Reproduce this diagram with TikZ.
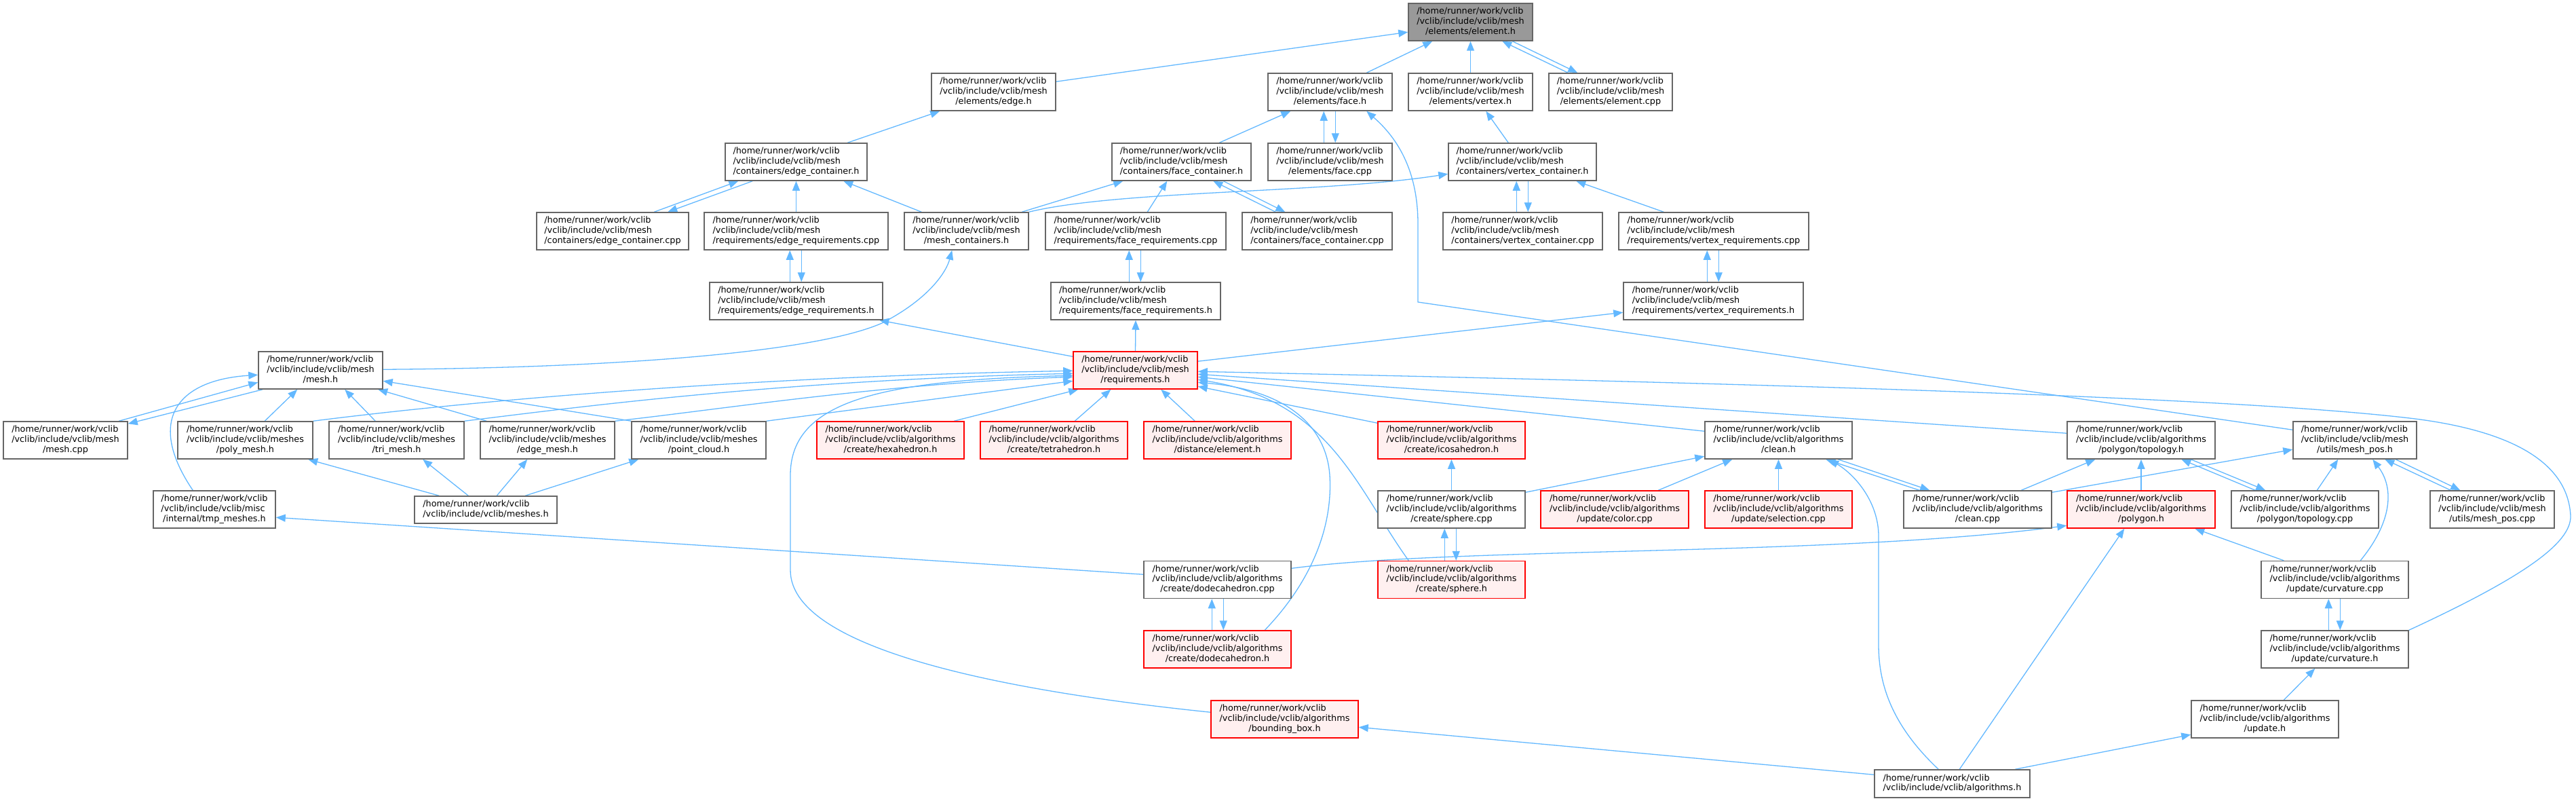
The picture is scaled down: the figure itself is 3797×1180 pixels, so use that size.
\documentclass[tikz,border=0pt]{standalone}
\usepackage{fontspec}
\newfontfamily\dvs{DejaVu Sans}
\usetikzlibrary{arrows.meta,backgrounds}
\definecolor{edgeblue}{HTML}{63B8FF}
\definecolor{boxgrey}{HTML}{666666}
\definecolor{redfill}{HTML}{FFF0F0}
\definecolor{rootfill}{HTML}{999999}
\newcommand\vlab[2]{\begin{tabular}{@{}l@{}}/home/runner/work/vclib\\#1\\\multicolumn{1}{@{}c@{}}{#2}\end{tabular}}
\newcommand\vlabm[1]{\vlab{/vclib/include/vclib/mesh}{#1}}
\newcommand\vlaba[1]{\vlab{/vclib/include/vclib/algorithms}{#1}}
\newcommand\vlabs[1]{\vlab{/vclib/include/vclib/meshes}{#1}}
\newcommand\vlabi[1]{\vlab{/vclib/include/vclib/misc}{#1}}
\newcommand\vlabtwo[1]{\begin{tabular}{@{}l@{}}/home/runner/work/vclib\\\multicolumn{1}{@{}c@{}}{#1}\end{tabular}}
\tikzset{
  nbox/.style={rectangle, draw=boxgrey, fill=white, line width=1.5pt, inner sep=0pt,
    minimum height=55pt, font=\dvs\fontsize{12.8pt}{14.8pt}\selectfont},
  rbox/.style={nbox, draw=red, fill=redfill},
  rootbox/.style={nbox, fill=rootfill},
  arr/.style={draw=edgeblue, line width=1.3pt, -{Triangle[length=14pt,width=11pt]}}
}
\begin{document}
\begin{tikzpicture}[x=1pt,y=-1pt]
\useasboundingbox (0,0) rectangle (3797,1180);
% row 0
\node[rootbox,minimum width=183pt] (elementh) at (2167.5,32.5) {\vlabm{/elements/element.h}};
% row 1
\node[nbox,minimum width=183pt] (edgeh) at (1464.5,135.5) {\vlabm{/elements/edge.h}};
\node[nbox,minimum width=183pt] (faceh) at (1960.5,135.5) {\vlabm{/elements/face.h}};
\node[nbox,minimum width=183pt] (vertexh) at (2167.5,135.5) {\vlabm{/elements/vertex.h}};
\node[nbox,minimum width=182pt] (elementcpp) at (2374,135.5) {\vlabm{/elements/element.cpp}};
% row 2
\node[nbox,minimum width=209pt] (edgecont) at (1173.5,238.5) {\vlabm{/containers/edge\_container.h}};
\node[nbox,minimum width=205pt] (facecont) at (1741.5,238.5) {\vlabm{/containers/face\_container.h}};
\node[nbox,minimum width=183pt] (facecpp) at (1960.5,238.5) {\vlabm{/elements/face.cpp}};
\node[nbox,minimum width=218pt] (vertcont) at (2244,238.5) {\vlabm{/containers/vertex\_container.h}};
% row 3
\node[nbox,minimum width=224pt] (edgecontcpp) at (903,340.5) {\vlabm{/containers/edge\_container.cpp}};
\node[nbox,minimum width=271pt] (edgereqcpp) at (1173.5,340.5) {\vlabm{/requirements/edge\_requirements.cpp}};
\node[nbox,minimum width=183pt] (meshcont) at (1424.5,340.5) {\vlabm{/mesh\_containers.h}};
\node[nbox,minimum width=266pt] (facereqcpp) at (1674,340.5) {\vlabm{/requirements/face\_requirements.cpp}};
\node[nbox,minimum width=221pt] (facecontcpp) at (1941.5,340.5) {\vlabm{/containers/face\_container.cpp}};
\node[nbox,minimum width=235pt] (vertcontcpp) at (2244.5,340.5) {\vlabm{/containers/vertex\_container.cpp}};
\node[nbox,minimum width=280pt] (vertreqcpp) at (2526,340.5) {\vlabm{/requirements/vertex\_requirements.cpp}};
% row 4
\node[nbox,minimum width=255pt] (edgereqh) at (1173.5,443.5) {\vlabm{/requirements/edge\_requirements.h}};
\node[nbox,minimum width=250pt] (facereqh) at (1674,443.5) {\vlabm{/requirements/face\_requirements.h}};
\node[nbox,minimum width=265pt] (vertreqh) at (2525.5,443.5) {\vlabm{/requirements/vertex\_requirements.h}};
% row 5
\node[nbox,minimum width=183pt] (meshh) at (472.5,545.5) {\vlabm{/mesh.h}};
\node[rbox,minimum width=183pt] (reqh) at (1673.5,545.5) {\vlabm{/requirements.h}};
% row 6
\node[nbox,minimum width=183pt] (meshcpp) at (96.5,648.5) {\vlabm{/mesh.cpp}};
\node[nbox,minimum width=199pt] (polymesh) at (361.5,648.5) {\vlabs{/poly\_mesh.h}};
\node[nbox,minimum width=199pt] (trimesh) at (584.5,648.5) {\vlabs{/tri\_mesh.h}};
\node[nbox,minimum width=198pt] (edgemesh) at (807,648.5) {\vlabs{/edge\_mesh.h}};
\node[nbox,minimum width=198pt] (pointcloud) at (1030,648.5) {\vlabs{/point\_cloud.h}};
\node[rbox,minimum width=217pt] (hexa) at (1312.5,648.5) {\vlaba{/create/hexahedron.h}};
\node[rbox,minimum width=217pt] (tetra) at (1553.5,648.5) {\vlaba{/create/tetrahedron.h}};
\node[rbox,minimum width=217pt] (distelem) at (1794.5,648.5) {\vlaba{/distance/element.h}};
\node[rbox,minimum width=217pt] (icosa) at (2139.5,648.5) {\vlaba{/create/icosahedron.h}};
\node[nbox,minimum width=217pt] (cleanh) at (2621.5,648.5) {\vlaba{/clean.h}};
\node[nbox,minimum width=218pt] (topoh) at (3156,648.5) {\vlaba{/polygon/topology.h}};
\node[nbox,minimum width=182pt] (meshposh) at (3471,648.5) {\vlabm{/utils/mesh\_pos.h}};
% row 7
\node[nbox,minimum width=180pt] (tmpmeshes) at (316,750.5) {\vlabi{/internal/tmp\_meshes.h}};
\node[nbox,minimum width=210pt,minimum height=40pt] (meshesh) at (716,751) {\vlabtwo{/vclib/include/vclib/meshes.h}};
\node[nbox,minimum width=217pt] (spherecpp) at (2139.5,750.5) {\vlaba{/create/sphere.cpp}};
\node[rbox,minimum width=218pt] (colorcpp) at (2380,750.5) {\vlaba{/update/color.cpp}};
\node[rbox,minimum width=217pt] (selcpp) at (2621.5,750.5) {\vlaba{/update/selection.cpp}};
\node[nbox,minimum width=218pt] (cleancpp) at (2915,750.5) {\vlaba{/clean.cpp}};
\node[rbox,minimum width=218pt] (polygonh) at (3156,750.5) {\vlaba{/polygon.h}};
\node[nbox,minimum width=217pt] (topocpp) at (3397.5,750.5) {\vlaba{/polygon/topology.cpp}};
\node[nbox,minimum width=183pt] (meshposcpp) at (3673.5,750.5) {\vlabm{/utils/mesh\_pos.cpp}};
% row 8
\node[nbox,minimum width=217pt] (dodecacpp) at (1794.5,854) {\vlaba{/create/dodecahedron.cpp}};
\node[rbox,minimum width=217pt] (sphereh) at (2139.5,854) {\vlaba{/create/sphere.h}};
\node[nbox,minimum width=217pt] (curvcpp) at (3441.5,854) {\vlaba{/update/curvature.cpp}};
% row 9
\node[rbox,minimum width=217pt] (dodecah) at (1794.5,956.5) {\vlaba{/create/dodecahedron.h}};
\node[nbox,minimum width=217pt] (curvh) at (3441.5,956.5) {\vlaba{/update/curvature.h}};
% row 10
\node[rbox,minimum width=217pt] (bboxh) at (1893.5,1059.5) {\vlaba{/bounding\_box.h}};
\node[nbox,minimum width=217pt] (updateh) at (3338.5,1059.5) {\vlaba{/update.h}};
% row 11
\node[nbox,minimum width=229pt,minimum height=41pt] (algoh) at (2877.5,1154.5) {\vlabtwo{/vclib/include/vclib/algorithms.h}};

\begin{pgfonlayer}{background}
% to element.h
\draw[arr] ([yshift=-13pt]edgeh.north east) -- ([yshift=-43pt]elementh.north west);
\draw[arr] ([xshift=146pt]faceh.north west) -- ([xshift=36pt]elementh.south west);
\draw[arr] (vertexh.north) -- (elementh.south);
\draw[arr] ([xshift=29pt]elementcpp.north west) -- ([xshift=139pt]elementh.south west);
\draw[arr] ([xshift=154pt]elementh.south west) -- ([xshift=43pt]elementcpp.north west);
% row 2 -> row 1
\draw[arr] ([xshift=181pt]edgecont.north west) -- ([xshift=13pt]edgeh.south west);
\draw[arr] ([xshift=159pt]facecont.north west) -- ([xshift=34pt]faceh.south west);
\draw[arr] ([xshift=83pt]facecpp.north west) -- ([xshift=83pt]faceh.south west);
\draw[arr] ([xshift=100pt]faceh.south west) -- ([xshift=100pt]facecpp.north west);
\draw[arr] ([yshift=-13pt]meshposh.north west) -- (2090,445) -- (2090,330)
  .. controls (2090,240) and (2050,195) .. ([xshift=146pt]faceh.south west);
\draw[arr] ([xshift=89pt]vertcont.north west) -- ([xshift=115pt]vertexh.south west);
% row 3 -> row 2
\draw[arr] ([xshift=174pt]edgecontcpp.north west) -- ([xshift=20pt]edgecont.south west);
\draw[arr] ([xshift=41pt]edgecont.south west) -- ([xshift=194pt]edgecontcpp.north west);
\draw[arr] (edgereqcpp.north) -- (edgecont.south);
\draw[arr] ([xshift=26pt]meshcont.north west) -- ([xshift=175pt]edgecont.south west);
\draw[arr] ([xshift=174pt]meshcont.north west) -- ([xshift=17pt]facecont.south west);
\draw[arr] ([xshift=151pt]facereqcpp.north west) -- ([xshift=82pt]facecont.south west);
\draw[arr] ([xshift=50pt]facecontcpp.north west) -- ([xshift=150pt]facecont.south west);
\draw[arr] ([xshift=165pt]facecont.south west) -- ([xshift=64pt]facecontcpp.north west);
\draw[arr] (meshcont.north east) .. controls (1650,280) and (1950,285) .. ([yshift=-46pt]vertcont.north west);
\draw[arr] ([xshift=109pt]vertcontcpp.north west) -- ([xshift=101pt]vertcont.south west);
\draw[arr] ([xshift=118pt]vertcont.south west) -- ([xshift=126pt]vertcontcpp.north west);
\draw[arr] ([xshift=67pt]vertreqcpp.north west) -- ([xshift=189pt]vertcont.south west);
% row 4 <-> row 3
\draw[arr] ([xshift=119pt]edgereqh.north west) -- ([xshift=127pt]edgereqcpp.south west);
\draw[arr] ([xshift=144pt]edgereqcpp.south west) -- ([xshift=136pt]edgereqh.north west);
\draw[arr] ([xshift=116pt]facereqh.north west) -- ([xshift=124pt]facereqcpp.south west);
\draw[arr] ([xshift=141pt]facereqcpp.south west) -- ([xshift=133pt]facereqh.north west);
\draw[arr] ([xshift=124pt]vertreqh.north west) -- ([xshift=131pt]vertreqcpp.south west);
\draw[arr] ([xshift=148pt]vertreqcpp.south west) -- ([xshift=141pt]vertreqh.north west);
% mesh.h -> mesh_containers.h
\draw[arr] ([yshift=-27pt]meshh.north east) .. controls (900,542) and (1200,520) .. (1300,476)
  .. controls (1370,440) and (1395,400) .. ([xshift=71pt]meshcont.south west);
% requirements.h upward
\draw[arr] ([yshift=-8pt]reqh.north west) -- ([xshift=251pt]edgereqh.south west);
\draw[arr] (reqh.north) -- (facereqh.south);
\draw[arr] ([yshift=-15pt]reqh.north east) -- ([yshift=-45pt]vertreqh.north west);
% mesh.h group
\draw[arr] ([xshift=171pt]meshcpp.north west) -- ([yshift=-46pt]meshh.north west);
\draw[arr] ([xshift=7pt]meshh.south west) -- ([yshift=-4pt]meshcpp.north east);
\draw[arr] ([xshift=59pt]tmpmeshes.north west) .. controls (215,620) and (260,560) .. ([yshift=-35pt]meshh.north west);
\draw[arr] ([xshift=129pt]polymesh.north west) -- ([xshift=58pt]meshh.south west);
\draw[arr] ([xshift=69pt]trimesh.north west) -- ([xshift=128pt]meshh.south west);
\draw[arr] ([xshift=10pt]edgemesh.north west) -- ([xshift=177pt]meshh.south west);
\draw[arr] (pointcloud.north west) -- ([yshift=-44pt]meshh.north east);
\draw[arr] ([xshift=37pt]meshesh.north west) -- ([xshift=193pt]polymesh.south west);
\draw[arr] ([xshift=80pt]meshesh.north west) -- ([xshift=139pt]trimesh.south west);
\draw[arr] ([xshift=122pt]meshesh.north west) -- ([xshift=70pt]edgemesh.south west);
\draw[arr] ([xshift=164pt]meshesh.north west) -- ([xshift=11pt]pointcloud.south west);
\draw[arr] ([yshift=-20.5pt]dodecacpp.north west) -- ([yshift=-40pt]tmpmeshes.north east);
% into requirements.h from the left
\draw[arr] (polymesh.north east) .. controls (700,590) and (1100,555) .. ([yshift=-29pt]reqh.north west);
\draw[arr] (trimesh.north east) .. controls (850,600) and (1150,560) .. ([yshift=-33pt]reqh.north west);
\draw[arr] (edgemesh.north east) .. controls (1050,605) and (1300,565) .. ([yshift=-38pt]reqh.north west);
\draw[arr] (pointcloud.north east) -- ([yshift=-44pt]reqh.north west);
\draw[arr] ([yshift=-18pt]bboxh.north west) .. controls (1500,1020) and (1165,960) .. (1165,840)
  -- (1165,700) .. controls (1165,590) and (1300,560) .. ([yshift=-36pt]reqh.north west);
% into requirements.h from below
\draw[arr] ([xshift=203pt]hexa.north west) -- ([xshift=8pt]reqh.south west);
\draw[arr] ([xshift=140pt]tetra.north west) -- ([xshift=56pt]reqh.south west);
\draw[arr] ([xshift=76pt]distelem.north west) -- ([xshift=130pt]reqh.south west);
% into requirements.h from the right
\draw[arr] (curvh.north east) .. controls (3720,850) and (3790,800) .. (3789,760)
  .. controls (3785,680) and (3700,635) .. (3560,617)
  .. controls (3300,585) and (2600,565) .. ([yshift=-30pt]reqh.north east);
\draw[arr] ([yshift=-18pt]topoh.north west) -- ([yshift=-34pt]reqh.north east);
\draw[arr] ([yshift=-15pt]cleanh.north west) -- ([yshift=-38pt]reqh.north east);
\draw[arr] ([xshift=46pt]sphereh.north west) .. controls (2000,720) and (1960,590) .. ([yshift=-42pt]reqh.north east);
\draw[arr] ([xshift=179pt]dodecah.north west) .. controls (1930,860) and (1965,780) .. (1960,700)
  .. controls (1955,630) and (1900,575) .. ([yshift=-46pt]reqh.north east);
\draw[arr] ([yshift=-3pt]icosa.north west) -- ([yshift=-52pt]reqh.north east);
% algorithms row 7 -> row 6
\draw[arr] (spherecpp.north) -- (icosa.south);
\draw[arr] ([yshift=-3pt]spherecpp.north east) -- ([yshift=-52pt]cleanh.north west);
\draw[arr] ([xshift=174pt]colorcpp.north west) -- ([xshift=41pt]cleanh.south west);
\draw[arr] (selcpp.north) -- (cleanh.south);
\draw[arr] ([xshift=24pt]cleancpp.north west) -- ([xshift=179pt]cleanh.south west);
\draw[arr] ([xshift=197pt]cleanh.south west) -- ([xshift=39pt]cleancpp.north west);
\draw[arr] ([xshift=95pt]algoh.north west) .. controls (2790,1070) and (2769,1010) .. (2769,950)
  -- (2769,790) .. controls (2769,740) and (2735,700) .. ([xshift=184pt]cleanh.south west);
\draw[arr] ([xshift=99pt]sphereh.north west) -- ([xshift=99pt]spherecpp.south west);
\draw[arr] ([xshift=116pt]spherecpp.south west) -- ([xshift=116pt]sphereh.north west);
\draw[arr] ([xshift=174pt]cleancpp.north west) -- ([xshift=42pt]topoh.south west);
\draw[arr] ([yshift=-3pt]cleancpp.north east) -- ([yshift=-42pt]meshposh.north west);
\draw[arr] (polygonh.north) -- (topoh.south);
\draw[arr] ([xshift=36pt]topocpp.north west) -- ([xshift=169pt]topoh.south west);
\draw[arr] ([xshift=183pt]topoh.south west) -- ([xshift=51pt]topocpp.north west);
\draw[arr] ([xshift=127pt]topocpp.north west) -- ([xshift=67pt]meshposh.south west);
\draw[arr] ([xshift=31pt]meshposcpp.north west) -- ([xshift=136pt]meshposh.south west);
\draw[arr] ([xshift=152pt]meshposh.south west) -- ([xshift=45pt]meshposcpp.north west);
\draw[arr] ([xshift=147pt]curvcpp.north west) .. controls (3525,770) and (3530,720) .. ([xshift=118pt]meshposh.south west);
% into polygon.h
\draw[arr] ([xshift=126pt]algoh.north west) -- ([xshift=85pt]polygonh.south west);
\draw[arr] ([xshift=34pt]curvcpp.north west) -- ([xshift=189pt]polygonh.south west);
\draw[arr] ([yshift=-11.5pt]dodecacpp.north east) .. controls (2150,805) and (2700,820) .. ([yshift=-52pt]polygonh.north west);
% curvature / update / algorithms
\draw[arr] ([xshift=100pt]curvh.north west) -- ([xshift=100pt]curvcpp.south west);
\draw[arr] ([xshift=117pt]curvcpp.south west) -- ([xshift=117pt]curvh.north west);
\draw[arr] ([xshift=137pt]updateh.north west) -- ([xshift=80pt]curvh.south west);
\draw[arr] ([xshift=208pt]algoh.north west) -- ([yshift=-51pt]updateh.north west);
\draw[arr] ([yshift=-8pt]algoh.north west) -- ([yshift=-40pt]bboxh.north east);
% dodecahedron
\draw[arr] ([xshift=101pt]dodecah.north west) -- ([xshift=101pt]dodecacpp.south west);
\draw[arr] ([xshift=118pt]dodecacpp.south west) -- ([xshift=118pt]dodecah.north west);
\end{pgfonlayer}
\end{tikzpicture}
\end{document}
